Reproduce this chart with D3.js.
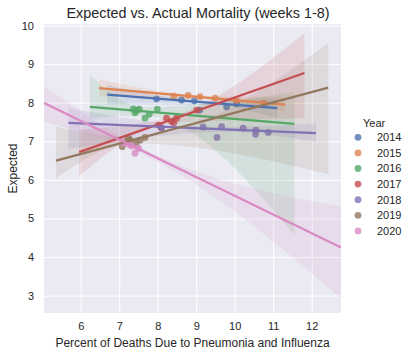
<!DOCTYPE html>
<html><head><meta charset="utf-8">
<script src="https://cdn.jsdelivr.net/npm/d3@7"></script>
<style>
body{margin:0;background:#fff;}
text{font-family:"Liberation Sans",Arial,sans-serif;fill:#262626;}
</style>
</head><body><svg id="c" width="411" height="354"></svg>
<script>
const years = [2014, 2015, 2016, 2017, 2018, 2019, 2020];
const colors = ["#4C72B0", "#DD8452", "#55A868", "#C44E52", "#8172B3", "#937860", "#DA8BC3"];
const xTicks = [6, 7, 8, 9, 10, 11, 12];
const yTicks = [3, 4, 5, 6, 7, 8, 9, 10];

// scatter values: percent of deaths (x) and expected (y)
const pct2014 = [7.97, 8.62, 8.95, 9.09, 9.79, 10.05];
const exp2014 = [8.10, 8.07, 8.05, 7.81, 7.89, 7.97];
const pct2015 = [8.42, 8.79, 9.10, 9.49, 10.05, 10.76];
const exp2015 = [8.17, 8.19, 8.16, 8.12, 8.05, 7.98];
const pct2016 = [7.37, 7.45, 7.52, 7.41, 7.67, 7.78, 7.99];
const exp2016 = [7.84, 7.80, 7.83, 7.74, 7.60, 7.70, 7.83];
const pct2017 = [8.02, 8.09, 8.23, 8.36, 8.49, 8.42, 9.01];
const exp2017 = [7.42, 7.35, 7.60, 7.51, 7.60, 7.48, 7.81];
const pct2018 = [8.10, 9.18, 9.66, 9.54, 10.22, 10.55, 10.54, 10.87];
const exp2018 = [7.35, 7.37, 7.38, 7.10, 7.34, 7.29, 7.18, 7.23];
const pct2019 = [7.08, 7.19, 7.28, 7.44, 7.54, 7.67, 7.24];
const exp2019 = [6.86, 6.99, 7.03, 6.95, 7.03, 7.10, 7.08];
const pct2020 = [7.11, 7.25, 7.32, 7.50, 7.41];
const exp2020 = [6.95, 6.93, 6.88, 6.82, 6.69];

// regression lines (start / end)
const fitX0 = [6.69, 6.48, 6.24, 5.96, 5.68, 5.36, 5.05];
const fitY0 = [8.21, 8.38, 7.89, 6.72, 7.48, 6.50, 7.99];
const fitX1 = [11.10, 11.31, 11.55, 11.81, 12.11, 12.43, 12.76];
const fitY1 = [7.86, 7.95, 7.45, 8.77, 7.21, 8.39, 4.25];

// confidence bands at [line start, bandMid, line end]
const bandMid = [9.3, 9.4, 7.6, 8.35, 9.7, 7.35, 7.35];
const bandLo = [[7.96, 7.94, 7.61], [8.16, 8.07, 7.75], [7.60, 7.67, 4.57], [6.10, 7.47, 7.60], [6.80, 7.25, 6.99], [6.04, 6.95, 6.15], [7.50, 6.78, 2.93]];
const bandHi = [[8.46, 8.06, 8.11], [8.60, 8.17, 8.15], [8.72, 7.89, 8.28], [7.30, 7.64, 9.80], [7.86, 7.37, 7.47], [7.38, 7.11, 9.55], [8.43, 6.95, 5.31]];

const pctAll = [pct2014, pct2015, pct2016, pct2017, pct2018, pct2019, pct2020];
const expAll = [exp2014, exp2015, exp2016, exp2017, exp2018, exp2019, exp2020];

const svg = d3.select("#c");
const L = 44, R = 341, T = 24, B = 313;
const x = d3.scaleLinear().domain([5.047, 12.76]).range([L, R]);
const y = d3.scaleLinear().domain([2.55, 10.04]).range([B, T]);

svg.append("rect").attr("x", L).attr("y", T).attr("width", R - L).attr("height", B - T).attr("fill", "#EAEAF2");
svg.append("defs").append("clipPath").attr("id", "clip").append("rect")
  .attr("x", L).attr("y", T).attr("width", R - L).attr("height", B - T);

// grid
const gx = svg.append("g").attr("transform", `translate(0,${B})`)
  .call(d3.axisBottom(x).tickValues(xTicks).tickSize(-(B - T)).tickPadding(9).tickFormat(d3.format("d")));
const gy = svg.append("g").attr("transform", `translate(${L},0)`)
  .call(d3.axisLeft(y).tickValues(yTicks).tickSize(-(R - L)).tickPadding(10).tickFormat(d3.format("d")));
[gx, gy].forEach(g => {
  g.select(".domain").remove();
  g.selectAll(".tick line").attr("stroke", "#fff").attr("stroke-width", 1);
  g.selectAll(".tick text").attr("font-size", 11).attr("fill", "#262626")
    .style("font-family", '"Liberation Sans",Arial,sans-serif');
});

const plot = svg.append("g").attr("clip-path", "url(#clip)");
const area = d3.area().x(d => x(d[0])).y0(d => y(d[1])).y1(d => y(d[2])).curve(d3.curveMonotoneX);

years.forEach((yr, i) => {
  const g = plot.append("g");
  g.selectAll("circle").data(d3.zip(pctAll[i], expAll[i])).join("circle")
    .attr("cx", d => x(d[0])).attr("cy", d => y(d[1])).attr("r", 3.4)
    .attr("fill", colors[i]).attr("fill-opacity", 0.8);
  const xs = [fitX0[i], bandMid[i], fitX1[i]];
  const pts = xs.map((xv, j) => [xv, bandLo[i][j], bandHi[i][j]]);
  g.append("path").attr("d", area(pts)).attr("fill", colors[i]).attr("fill-opacity", 0.15);
});
years.forEach((yr, i) => {
  plot.append("line")
    .attr("x1", x(fitX0[i])).attr("y1", y(fitY0[i]))
    .attr("x2", x(fitX1[i])).attr("y2", y(fitY1[i]))
    .attr("stroke", colors[i]).attr("stroke-width", 2.25).attr("stroke-linecap", "butt");
});

// labels
svg.append("text").attr("x", 198).attr("y", 18).attr("text-anchor", "middle")
  .attr("font-size", 14.4).text("Expected vs. Actual Mortality (weeks 1-8)");
svg.append("text").attr("x", (L + R) / 2).attr("y", 347).attr("text-anchor", "middle")
  .attr("font-size", 12).text("Percent of Deaths Due to Pneumonia and Influenza");
svg.append("text").attr("transform", `translate(17,${(T + B) / 2}) rotate(-90)`).attr("text-anchor", "middle")
  .attr("font-size", 12).text("Expected");

// legend
const lg = svg.append("g");
lg.append("text").attr("x", 363).attr("y", 126.5).attr("font-size", 11).text("Year");
years.forEach((yr, i) => {
  const cy = 137.3 + i * 15.6;
  lg.append("circle").attr("cx", 358).attr("cy", cy).attr("r", 3.4).attr("fill", colors[i]).attr("fill-opacity", 0.8);
  lg.append("text").attr("x", 377).attr("y", cy + 3.8).attr("font-size", 11).text(yr);
});
</script></body></html>
